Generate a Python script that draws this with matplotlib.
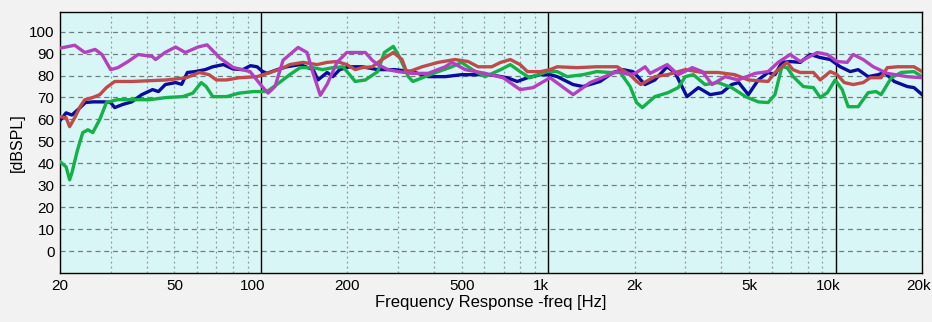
import numpy as np
import matplotlib
matplotlib.use("Agg")
from matplotlib import pyplot as plt
from matplotlib import transforms
from matplotlib.ticker import FixedLocator, NullFormatter

# curves (freq in Hz, level in dBSPL)
blue_f = [20, 21, 22, 23.5, 24.5, 26, 28.5, 30, 31, 33, 35.5, 38.5, 42, 44, 46.5, 50.5, 53, 55.5, 59, 64,
          68, 74, 80, 86.5, 92, 97, 101, 105, 114, 123, 137, 152, 158, 170, 178, 188, 204, 225, 255, 292,
          336, 382, 438, 499, 570, 628, 720, 780, 846, 940, 1015, 1075, 1220, 1320, 1515, 1680, 1820, 1970,
          2050, 2170, 2350, 2590, 2760, 3040, 3330, 3660, 4020, 4350, 4600, 4970, 5380, 5820, 6150, 6500,
          6950, 7530, 8160, 8840, 9580, 10380, 11240, 11980, 12980, 14060, 14790, 16000, 17760, 18740, 20000]
blue_db = [59.5, 63, 62, 65.4, 67.7, 68, 68, 67.7, 65.4, 66.8, 68, 71.3, 73.6, 72.7, 75.9, 76.8, 76, 81.4, 81.8, 82.7,
           84, 85, 83, 82.7, 84.5, 84, 82, 81, 82.7, 84, 85, 82.7, 78, 81.4, 79.5, 82.7, 84, 84, 82.7, 82.7,
           81.8, 79.5, 79.5, 80.4, 80.4, 80.4, 79, 77.3, 79, 80.4, 80.4, 79.5, 75.9, 75, 77.3, 81.4, 82.7, 81.8,
           79.5, 75.9, 78, 84, 81.4, 70.4, 74.5, 71.3, 72.2, 75.9, 76.8, 71.3, 78, 81.4, 80.4, 86,
           86.4, 86, 89.6, 88.2, 87.3, 84, 81.8, 82.7, 79.5, 80.4, 81.4, 77.3, 75, 74.5, 71.3]

green_f = [20, 21, 21.6, 22, 23, 24, 25, 26, 27.5, 29, 31.6, 35.7, 41, 47, 53.5, 58, 62, 64.5, 68, 76,
           84, 94, 105, 116, 126, 137, 152, 164, 178, 193, 213, 231, 255, 269, 289, 303, 326, 338, 373, 414,
           462, 499, 544, 603, 683, 738, 798, 862, 990, 1075, 1163, 1322, 1476, 1640, 1780, 1927, 2030, 2125,
           2350, 2610, 2832, 3000, 3200, 3510, 3900, 4350, 4860, 5380, 5820, 6150, 6500, 6780, 7120, 7720,
           8370, 8840, 9360, 9960, 10540, 11060, 11980, 12980, 13840, 14400, 15620, 16910, 18740, 20000]
green_db = [40.7, 38.4, 32.5, 35.7, 46, 54, 55.3, 54, 60, 67.7, 69, 69, 69, 70, 70.4, 72, 76.8, 75, 70.4, 70.4,
            72, 72.7, 72.7, 76.8, 80.4, 83.6, 83.6, 82.7, 83.6, 84, 77.3, 78, 81.8, 90.5, 93.3, 88.7, 79.5, 77.3, 79.5, 81.8,
            84, 86, 82.7, 79.5, 82.7, 85, 81.8, 79, 81.8, 81.8, 79.5, 80.4, 81.8, 81.4, 81.4, 75, 67.7, 65.4,
            70.4, 72.2, 74.5, 79.5, 80.4, 75.9, 76.8, 74.5, 70.4, 68, 67.7, 71.3, 84, 83.6, 79.5, 75,
            74.5, 70, 72.2, 78, 73.6, 65.8, 65.8, 72.2, 72.7, 71.3, 79, 81.4, 81.8, 79.5]

red_f = [20, 21, 21.6, 22.5, 23.5, 24.4, 26, 27.5, 29, 31, 35.7, 47, 55, 61, 66, 70, 76, 84, 97, 108,
         120, 126, 140, 157, 170, 184, 199, 213, 225, 244, 264, 289, 310, 322, 364, 414, 473, 526, 570, 636,
         683, 738, 798, 846, 940, 1015, 1075, 1260, 1476, 1738, 1927, 2006, 2100, 2350, 2600, 3000, 3436, 3900,
         4460, 4970, 5820, 6150, 6500, 6780, 7100, 7530, 8370, 8840, 9580, 10120, 10720, 11510, 12470, 13200,
         14400, 15130, 16420, 18740, 20000]
red_db = [61.3, 60.8, 56.7, 60.8, 65.8, 69, 70, 71.3, 74.5, 77.3, 77.3, 78, 79, 81.4, 80.4, 78, 78, 79, 79.5, 81.4,
          83.6, 85, 86, 85, 86, 86.4, 85, 82.7, 83.6, 84, 87.3, 90.5, 87.3, 81.4, 84, 86, 87.3, 86.4, 84, 84,
          86, 87.3, 85, 81.8, 81.8, 82.7, 84, 83.6, 84, 84, 80.4, 78, 75.9, 79.5, 80.4, 82.7, 81.4, 81.4,
          80.4, 78, 77.3, 81.4, 84, 86, 82.7, 81.4, 81.4, 78, 81.8, 80.4, 76.8, 75.9, 76.8, 79,
          79, 83.6, 84, 84, 81.8]

mag_f = [20, 22.5, 24.4, 26.5, 28, 30, 31.8, 34.5, 37.4, 41.9, 43, 46.4, 50.5, 54.6, 60.4, 65, 72, 80, 91.7, 101,
         106, 112, 119.5, 134.7, 144.8, 152, 161, 170, 184, 199, 213, 231, 244, 255, 277, 300, 336, 382, 438, 462,
         514, 603, 697, 798, 885, 1015, 1221, 1399, 1738, 1927, 2006, 2173, 2262, 2594, 2832, 3170, 3436, 3717,
         4126, 4580, 5250, 5823, 6310, 6950, 7533, 8633, 9356, 10120, 10970, 11510, 12470, 13520, 15130, 17760, 20000]
mag_db = [92.5, 93.8, 90.5, 91.9, 89.6, 82.7, 83.6, 86.4, 89.6, 88.7, 87.3, 90.5, 93, 90.5, 93, 94, 88, 83.7, 81.8, 75,
          72, 75, 87, 92.8, 90.5, 81, 71, 76, 86, 90.5, 90.5, 90.5, 87, 85, 82.7, 81.8, 81, 81, 84, 86,
          82.7, 81, 79, 73.6, 74.5, 79, 71.3, 76.8, 81.8, 80.4, 81, 84, 81, 85, 80.4, 83.6, 81.8, 75.9,
          79.5, 78, 81, 81.8, 86, 89.6, 86.4, 90.5, 89.6, 86.4, 86, 89.6, 87.3, 84, 81, 79.5, 79]

xtick_vals = [20, 50, 100, 200, 500, 1000, 2000, 5000, 10000, 20000]
xtick_labels = ["20", "50", "100", "200", "500", "1k", "2k", "5k", "10k", "20k"]
ytick_vals = [0, 10, 20, 30, 40, 50, 60, 70, 80, 90, 100]

plt.rcParams['font.family'] = ['Liberation Sans', 'DejaVu Sans']

fig = plt.figure(figsize=(9.32, 3.22), dpi=100, facecolor='#f2f2f2')
ax = fig.add_axes([0.0644, 0.152, 0.925, 0.811])
ax.set_facecolor('#d9f6f6')
ax.set_xscale('log')
ax.set_xlim(20, 20000)
ax.set_ylim(-10, 109)

# grid
minor = [m * d for d in (10, 100, 1000, 10000) for m in range(2, 10) if 20 <= m * d <= 20000]
for v in minor:
    ax.axvline(v, color='#8a9a9a', lw=0.9, ls=(0, (1.5, 2.5)), zorder=1)
for v in ytick_vals:
    ax.axhline(v, color='#6f7f7f', lw=0.9, ls=(0, (4, 3)), zorder=1)
for v in (100, 1000, 10000):
    ax.axvline(v, color='black', lw=1.0, zorder=2)

ax.plot(blue_f, blue_db, color='#0c0c9c', lw=2.4, zorder=3)
ax.plot(green_f, green_db, color='#14b048', lw=2.4, zorder=4)
ax.plot(red_f, red_db, color='#c04a4a', lw=2.4, zorder=5)
ax.plot(mag_f, mag_db, color='#b440c0', lw=2.4, zorder=6)

ax.xaxis.set_major_locator(FixedLocator(xtick_vals))
ax.set_xticklabels(xtick_labels)
ax.xaxis.set_minor_formatter(NullFormatter())
ax.set_yticks(ytick_vals)
ax.tick_params(axis='both', which='both', length=0, labelsize=11, pad=4)

# decade labels sit a bit left of their lines in the original
shifts = {"100": -8, "1k": -7, "10k": -7, "20k": -4}
for lab in ax.get_xticklabels():
    dx = shifts.get(lab.get_text())
    if dx:
        off = transforms.ScaledTranslation(dx / 100, 0, fig.dpi_scale_trans)
        lab.set_transform(lab.get_transform() + off)

for s in ax.spines.values():
    s.set_color('black')
    s.set_linewidth(1.0)

ax.set_xlabel("Frequency Response -freq [Hz]", fontsize=12, labelpad=2)
ax.set_ylabel("[dBSPL]", fontsize=11.5, labelpad=3)

fig.savefig("out.png", dpi=100, facecolor=fig.get_facecolor())
